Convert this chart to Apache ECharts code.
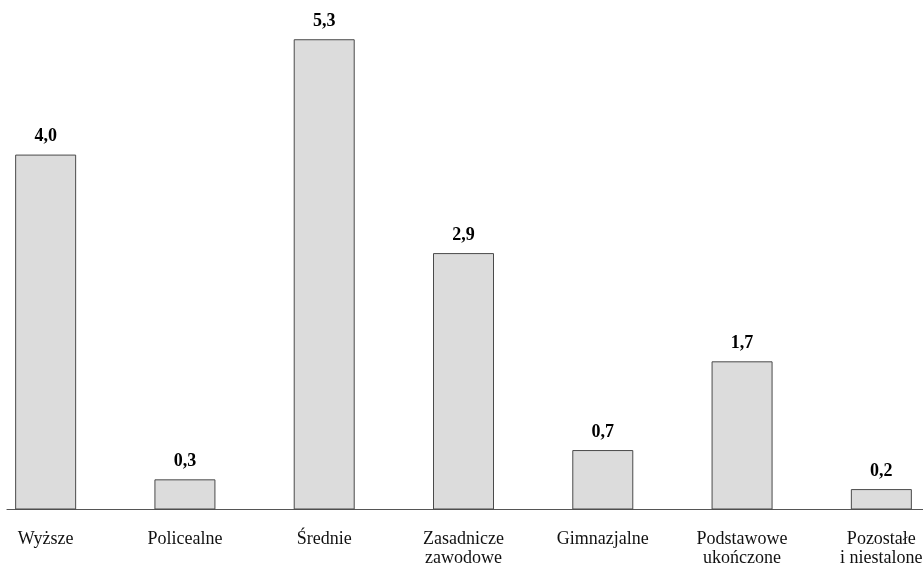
<!DOCTYPE html>
<html>
<head>
<meta charset="utf-8">
<script src="https://cdn.jsdelivr.net/npm/echarts@6/dist/echarts.min.js"></script>
<style>html,body{margin:0;padding:0;background:#fff}#c{width:923px;height:566px}</style>
</head>
<body>
<div id="c"></div>
<script>
const categories = ['Wyższe', 'Policealne', 'Średnie', 'Zasadnicze\nzawodowe', 'Gimnazjalne', 'Podstawowe\nukończone', 'Pozostałe\ni niestalone'];
const values = [4.0, 0.34, 5.3, 2.89, 0.67, 1.67, 0.23];

const chart = echarts.init(document.getElementById('c'));
chart.setOption({
  animation: false,
  backgroundColor: '#ffffff',
  grid: [
    { left: -24, width: 975, top: 21.5, bottom: 56.5, outerBoundsMode: 'none', containLabel: false },
    { left: 7, right: 0, top: 21.5, bottom: 56.5, outerBoundsMode: 'none', containLabel: false }
  ],
  xAxis: [
    {
      type: 'category', gridIndex: 0, data: categories,
      axisLine: { show: false }, axisTick: { show: false },
      axisLabel: { interval: 0, margin: 20, fontFamily: 'Liberation Serif', fontSize: 18, lineHeight: 19, color: '#111' }
    },
    {
      type: 'category', gridIndex: 1, data: [''],
      axisLine: { show: true, lineStyle: { color: '#555', width: 1.2 } },
      axisTick: { show: false }, axisLabel: { show: false }
    }
  ],
  yAxis: [
    { type: 'value', gridIndex: 0, min: 0, max: 5.5, show: false, splitLine: { show: false } },
    { type: 'value', gridIndex: 1, min: 0, max: 5.5, show: false, splitLine: { show: false } }
  ],
  series: [{
    type: 'bar',
    xAxisIndex: 0, yAxisIndex: 0,
    data: values,
    barWidth: 61,
    itemStyle: { color: '#dcdcdc', borderColor: '#4a4a4a', borderWidth: 1 },
    label: {
      show: true, position: 'top', distance: 9,
      fontFamily: 'Liberation Serif', fontWeight: 'bold', fontSize: 18, color: '#000',
      formatter: p => p.value.toFixed(1).replace('.', ',')
    }
  }]
});
</script>
</body>
</html>
